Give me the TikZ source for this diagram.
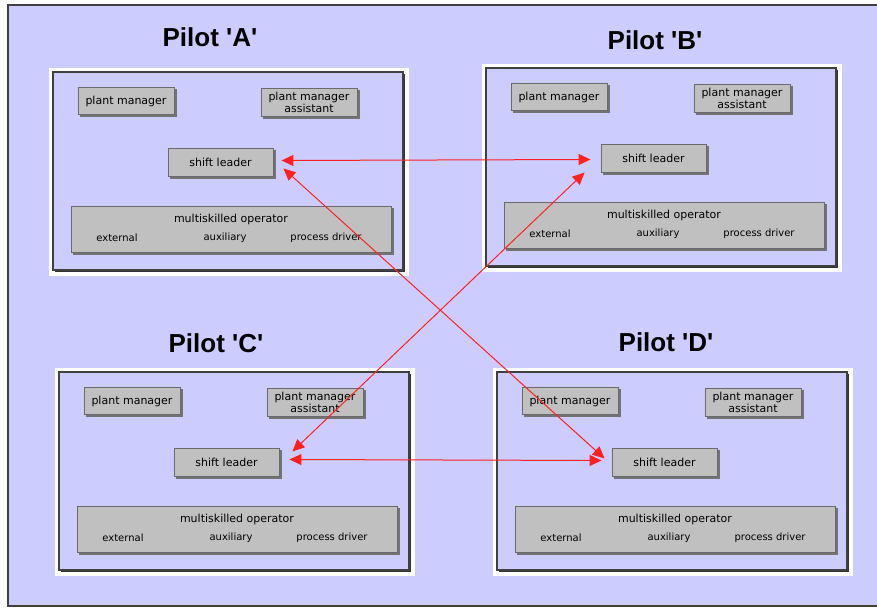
\documentclass[tikz,border=0pt]{standalone}
\usepackage{fontspec}
\setmainfont{Liberation Sans}
\newfontfamily\titlefont{Liberation Sans}[Ligatures=TeXOff]
\newfontfamily\boxfont{DejaVu Sans}
\usetikzlibrary{arrows.meta}
\definecolor{lav}{HTML}{CCCCFF}
\definecolor{boxgray}{HTML}{C0C0C0}
\definecolor{boxline}{HTML}{6A6A6A}
\definecolor{arrred}{HTML}{FF2020}
\tikzset{
  box/.style={draw=boxline, line width=0.9pt, fill=boxgray, inner sep=0pt,
    font=\boxfont\fontsize{11}{12.5}\selectfont, align=center},
  sublabel/.style={font=\boxfont\fontsize{10}{12}\selectfont, inner sep=0pt},
  pilottitle/.style={font=\titlefont\bfseries\fontsize{26}{28}\selectfont, inner sep=0pt},
  arr/.style={draw=arrred, line width=1pt, {Triangle[length=12pt,width=11pt]}-{Triangle[length=12pt,width=11pt]}},
}
\newcommand\pilotpanel[3]{%
  \begin{scope}[shift={(#2,#3)}]
    \fill[white] (-4,-4) rectangle (356,204);
    \fill[black!80] (2,2) rectangle (352,200);
    \fill[lav, draw=black!75, line width=1.2pt] (0,0) rectangle (350,198);
    \fill[black!55] (27,17) rectangle (124,45);
    \node[box, minimum width=96pt, minimum height=27pt] (#1-pm) at (73,29) {plant manager};
    \fill[black!55] (209.5,18) rectangle (306.5,47);
    \node[box, minimum width=96pt, minimum height=28pt] (#1-pma) at (256,30.5) {plant manager\\assistant};
    \fill[black!55] (117,78) rectangle (223,107);
    \node[box, minimum width=105pt, minimum height=28pt] (#1-sl) at (167.5,90.5) {shift leader};
    \fill[black!55] (20,136) rectangle (341,183);
    \node[box, minimum width=320pt, minimum height=46pt] (#1-mo) at (178,157) {};
    \node[font=\boxfont\fontsize{11}{12}\selectfont, inner sep=0pt] (#1-mot) at (178,147) {multiskilled operator};
    \node[sublabel] (#1-ext) at (64,166) {external};
    \node[sublabel] (#1-aux) at (172,166) {auxiliary};
    \node[sublabel] (#1-pd) at (273,166) {process driver};
  \end{scope}}
\begin{document}
\begin{tikzpicture}[x=1pt,y=-1pt]
\useasboundingbox (0,0) rectangle (877,608);
\fill[white] (0,0) rectangle (877,608);
\fill[lav, draw=black!75, line width=1.3pt] (8,5) rectangle (890,606);

\node[pilottitle] (tA) at (210,37) {Pilot 'A'};
\node[pilottitle] (tB) at (655,40) {Pilot 'B'};
\node[pilottitle] (tC) at (216,343) {Pilot 'C'};
\node[pilottitle] (tD) at (666,342) {Pilot 'D'};

\pilotpanel{A}{53}{72}
\pilotpanel{B}{486}{68}
\pilotpanel{C}{59}{372}
\pilotpanel{D}{497}{372}

\draw[arr] ([xshift=8pt,yshift=2pt]A-sl.east) -- ([xshift=-10pt,yshift=-1pt]B-sl.west);
\draw[arr] ([xshift=10pt,yshift=3pt]C-sl.east) -- ([xshift=-10pt,yshift=2pt]D-sl.west);
\draw[arr] ([xshift=10pt,yshift=-6pt]A-sl.east) -- ([xshift=-7pt,yshift=4pt]D-sl.west);
\draw[arr] ([xshift=-16pt,yshift=-14pt]B-sl.west) -- ([xshift=13pt,yshift=11pt]C-sl.east);
\end{tikzpicture}
\end{document}
